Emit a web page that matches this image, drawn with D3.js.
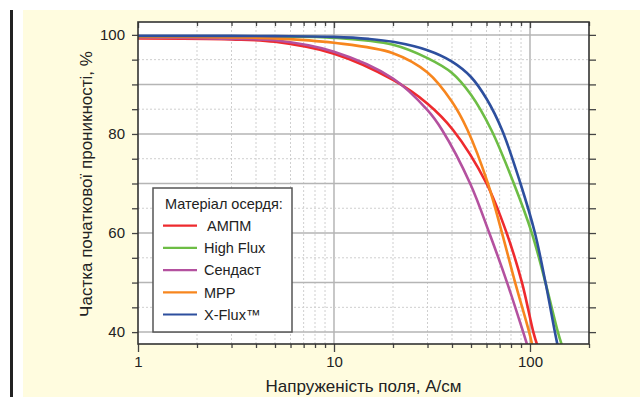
<!DOCTYPE html>
<html>
<head>
<meta charset="utf-8">
<script src="https://cdn.jsdelivr.net/npm/d3@7"></script>
<style>
  body { margin: 0; background: #fff; }
  svg { display: block; font-family: "Liberation Sans", Arial, sans-serif; }
</style>
</head>
<body>
<script>
// data: [field A/cm, % of initial permeability]
const series = ['АМПМ', 'High Flux', 'Сендаст', 'MPP', 'X-Flux™'];
const colors = ['#ee2a2e', '#6dbd45', '#b4519f', '#f7861e', '#2d4f9e'];

const ampm = [[1, 99.3], [3, 99.1], [5, 98.6], [10, 96.2], [20, 90.9], [30, 86.1], [40.5, 80.8],
  [60, 70], [76, 60], [91, 50], [104, 40], [108.6, 37.5]];
const highFlux = [[1, 99.7], [5, 99.65], [10, 99.4], [20, 98.0], [30, 95.3], [40, 92.3], [50, 87.9],
  [63.5, 80.8], [82.7, 70], [102.2, 60], [119.9, 50], [138.8, 40], [145, 37.5]];
const sendust = [[1, 99.5], [3, 99.2], [5, 98.9], [10, 96.6], [20, 91.2], [30, 84.8], [35.6, 80.8],
  [49.5, 70], [62, 60], [76.4, 50], [92.3, 40], [96.6, 37.5]];
const mpp = [[1, 99.6], [3, 99.5], [5, 99.3], [10, 98.4], [20, 96.3], [30, 92.4], [40, 86.5],
  [48, 80.8], [61, 70], [72, 60], [84, 50], [99, 40], [102.5, 37.5]];
const xFlux = [[1, 99.8], [3, 99.8], [5, 99.75], [10, 99.6], [15, 99.2], [20, 98.6], [30, 96.9],
  [40, 94.6], [50, 91.5], [60, 87.1], [72, 80.8], [89.4, 70], [106, 60], [120, 50], [134, 40], [138, 37.5]];
const curves = [ampm, highFlux, sendust, mpp, xFlux];

const xTicks = [1, 2, 3, 4, 5, 6, 7, 8, 9, 10, 20, 30, 40, 50, 60, 70, 80, 90, 100, 200];
const xMajor = [1, 10, 100];
const yTicks = [40, 45, 50, 55, 60, 65, 70, 75, 80, 85, 90, 95, 100];
const yMajor = [40, 50, 60, 70, 80, 90, 100];
const yLabels = [40, 60, 80, 100];

const W = 640, H = 397;
const m = { l: 138, r: 589, t: 22, b: 344 };

const svg = d3.select('body').append('svg')
  .attr('width', W)
  .attr('height', H);

svg.append('rect').attr('x', 23).attr('y', 10).attr('width', W - 23).attr('height', H - 10).attr('fill', '#fffcdf');
svg.append('rect').attr('x', 10).attr('y', 10).attr('width', 3).attr('height', H - 10).attr('fill', '#222');

const x = d3.scaleLog().domain([1, 200]).range([m.l, m.r]);
const y = d3.scaleLinear().domain([37.6, 102.6]).range([m.b, m.t]);

svg.append('rect')
  .attr('x', m.l).attr('y', m.t)
  .attr('width', m.r - m.l).attr('height', m.b - m.t)
  .attr('fill', '#fff');

// grid
const grid = svg.append('g');
grid.selectAll('.vg').data(xTicks.filter(d => d > 1 && d < 200)).enter().append('line')
  .attr('x1', d => x(d)).attr('x2', d => x(d))
  .attr('y1', m.t).attr('y2', m.b)
  .attr('stroke', d => xMajor.includes(d) ? '#b5b5b5' : '#cfcfcf')
  .attr('stroke-width', d => xMajor.includes(d) ? 1.5 : 1)
  .attr('stroke-dasharray', d => xMajor.includes(d) ? null : '2,2');
grid.selectAll('.hg').data(yTicks).enter().append('line')
  .attr('x1', m.l).attr('x2', m.r)
  .attr('y1', d => y(d)).attr('y2', d => y(d))
  .attr('stroke', d => yMajor.includes(d) ? '#b5b5b5' : '#cfcfcf')
  .attr('stroke-width', d => yMajor.includes(d) ? 1.5 : 1)
  .attr('stroke-dasharray', d => yMajor.includes(d) ? null : '2,2');

// curves
svg.append('clipPath').attr('id', 'clip')
  .append('rect').attr('x', m.l).attr('y', m.t).attr('width', m.r - m.l).attr('height', m.b - m.t);

const line = d3.line()
  .x(d => x(d[0]))
  .y(d => y(d[1]))
  .curve(d3.curveCatmullRom.alpha(0.5));

svg.append('g').attr('clip-path', 'url(#clip)')
  .selectAll('path').data(curves).enter().append('path')
  .attr('d', line)
  .attr('fill', 'none')
  .attr('stroke', (d, i) => colors[i])
  .attr('stroke-width', 2.6);

// axes
const tickColor = '#444';
function styleAxis(g) {
  g.select('.domain').remove();
  g.selectAll('.tick line').attr('stroke', tickColor).attr('stroke-width', 1.3);
  g.selectAll('.tick text').attr('fill', '#222').attr('font-size', 15);
}

svg.append('g')
  .attr('transform', `translate(${m.l},0)`)
  .call(d3.axisLeft(y).tickValues(yTicks).tickSize(6).tickPadding(7)
    .tickFormat(d => yLabels.includes(d) ? d : ''))
  .call(styleAxis);

svg.append('g')
  .attr('transform', `translate(${m.r},0)`)
  .call(d3.axisLeft(y).tickValues(yTicks).tickSize(-7).tickFormat(''))
  .call(styleAxis);

const bottomAxis = svg.append('g')
  .attr('transform', `translate(0,${m.b})`)
  .call(d3.axisBottom(x).tickValues(xTicks).tickSize(4).tickPadding(10)
    .tickFormat(d => xMajor.includes(d) ? d : ''))
  .call(styleAxis);
bottomAxis.selectAll('.tick line').attr('y2', d => xMajor.includes(d) ? 8 : 4);
bottomAxis.selectAll('.tick text').attr('y', 12);

const topAxis = svg.append('g')
  .attr('transform', `translate(0,${m.t})`)
  .call(d3.axisTop(x).tickValues(xTicks).tickSize(-4).tickFormat(''))
  .call(styleAxis);
topAxis.selectAll('.tick line').attr('y2', d => xMajor.includes(d) ? 6 : 4);

svg.append('rect')
  .attr('x', m.l).attr('y', m.t)
  .attr('width', m.r - m.l).attr('height', m.b - m.t)
  .attr('fill', 'none').attr('stroke', '#333').attr('stroke-width', 1.6);

// titles
svg.append('text')
  .attr('x', (m.l + m.r) / 2).attr('y', 392)
  .attr('text-anchor', 'middle').attr('font-size', 17).attr('fill', '#222')
  .text('Напруженість поля, А/см');

svg.append('text')
  .attr('transform', 'translate(92,184) rotate(-90)')
  .attr('text-anchor', 'middle').attr('font-size', 17).attr('fill', '#222')
  .text('Частка початкової проникності, %');

// legend
const lg = svg.append('g');
lg.append('rect')
  .attr('x', 153).attr('y', 188).attr('width', 139).attr('height', 144)
  .attr('fill', '#fff').attr('stroke', '#555').attr('stroke-width', 1.5);
lg.append('text')
  .attr('x', 165).attr('y', 208.5).attr('font-size', 14.5).attr('fill', '#222')
  .text('Матеріал осердя:');
const items = lg.selectAll('.item').data(series).enter().append('g')
  .attr('transform', (d, i) => `translate(0,${225.7 + i * 22.2})`);
items.append('line')
  .attr('x1', 163).attr('x2', 197)
  .attr('stroke', (d, i) => colors[i]).attr('stroke-width', 2.2);
items.append('text')
  .attr('x', (d, i) => i === 0 ? 207 : 204).attr('y', 5.2)
  .attr('font-size', 14.5).attr('fill', '#222')
  .text(d => d);
</script>
</body>
</html>
